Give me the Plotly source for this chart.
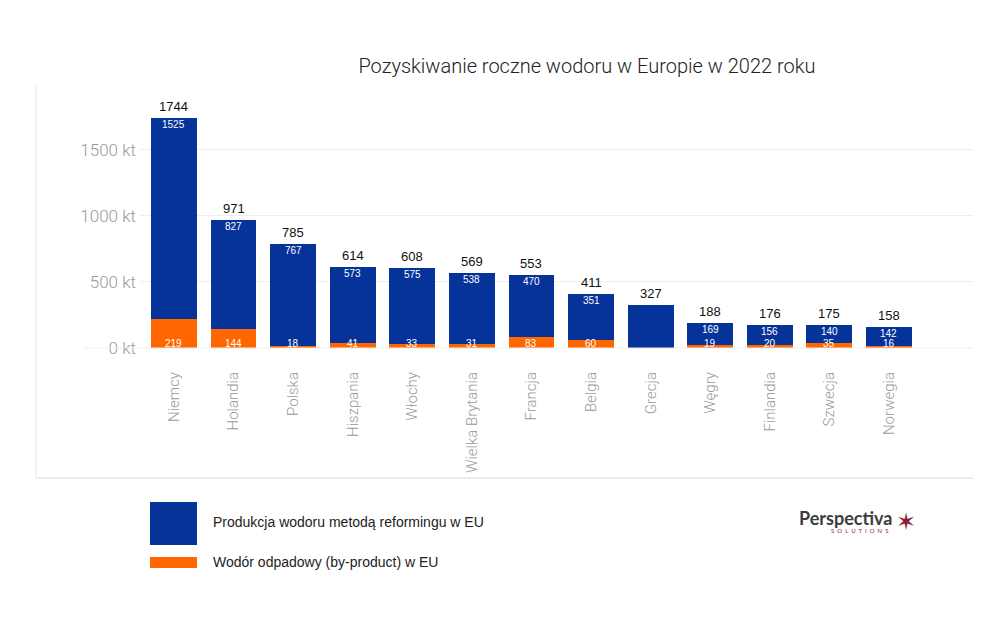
import plotly.graph_objects as go

countries = ["Niemcy", "Holandia", "Polska", "Hiszpania", "Włochy", "Wielka Brytania",
             "Francja", "Belgia", "Grecja", "Węgry", "Finlandia", "Szwecja", "Norwegia"]
reforming = [1525, 827, 767, 573, 575, 538, 470, 351, 327, 169, 156, 140, 142]
byproduct = [219, 144, 18, 41, 33, 31, 83, 60, 0, 19, 20, 35, 16]
totals = [1744, 971, 785, 614, 608, 569, 553, 411, 327, 188, 176, 175, 158]
reforming_labels = ["1525", "827", "767", "573", "575", "538", "470", "351", "", "169", "156", "140", "142"]
byproduct_labels = ["219", "144", "18", "41", "33", "31", "83", "60", "", "19", "20", "35", "16"]
y_ticks = [0, 500, 1000, 1500]
y_tick_labels = ["0 kt", "500 kt", "1000 kt", "1500 kt"]

BLUE = "#063399"
ORANGE = "#ff6600"
W, H = 1000, 622
OFF = 8  # page body margin
L, R, T, B = 140 - OFF, 973 - OFF, 97 - OFF, 348 - OFF

def px(xp):
    return (xp - OFF - L) / (R - L)

def py(yp):
    return (B - (yp - OFF)) / (B - T)

COND = dict(family="Roboto", weight=300)

fig = go.Figure()
fig.add_trace(go.Bar(x=countries, y=byproduct, marker=dict(color=ORANGE, line=dict(width=0)),
                     name="Wodór odpadowy (by-product) w EU", hoverinfo="x+y"))
fig.add_trace(go.Bar(x=countries, y=reforming, marker=dict(color=BLUE, line=dict(width=0)),
                     name="Produkcja wodoru metodą reformingu w EU", hoverinfo="x+y"))

annotations = []
for c, t in zip(countries, totals):
    annotations.append(dict(x=c, y=t, text=str(t), showarrow=False, yanchor="bottom", yshift=2,
                            font=dict(family="Liberation Sans, Arial", size=13, color="#111")))
for c, t, lab in zip(countries, totals, reforming_labels):
    if lab:
        annotations.append(dict(x=c, y=t, text=lab, showarrow=False, yanchor="top", yshift=1,
                                font=dict(family="Liberation Sans, Arial", size=10, color="white")))
for c, lab in zip(countries, byproduct_labels):
    if lab:
        annotations.append(dict(x=c, y=0, text=lab, showarrow=False, yanchor="bottom", yshift=-3,
                                font=dict(family="Liberation Sans, Arial", size=10, color="white")))

# legend texts
annotations.append(dict(xref="paper", yref="paper", x=px(211), y=py(522), xanchor="left", yanchor="middle",
                        text="Produkcja wodoru metodą reformingu w EU", showarrow=False,
                        font=dict(family="Liberation Sans, Arial", size=14, color="#222")))
annotations.append(dict(xref="paper", yref="paper", x=px(211), y=py(562), xanchor="left", yanchor="middle",
                        text="Wodór odpadowy (by-product) w EU", showarrow=False,
                        font=dict(family="Liberation Sans, Arial", size=14, color="#222")))
# logo
annotations.append(dict(xref="paper", yref="paper", x=px(797), y=py(518), xanchor="left", yanchor="middle",
                        text="<b>Perspectiva</b>", showarrow=False,
                        font=dict(family="Lato, Liberation Sans", size=18, color="#3c3c3c")))
annotations.append(dict(xref="paper", yref="paper", x=px(829), y=py(530), xanchor="left", yanchor="middle",
                        text="S  O  L  U  T  I  O  N  S", showarrow=False,
                        font=dict(family="Lato, Liberation Sans", size=6, color="#8b1a3a")))
annotations.append(dict(xref="paper", yref="paper", x=px(906), y=py(522), xanchor="center", yanchor="middle",
                        text="✶", showarrow=False,
                        font=dict(family="DejaVu Sans", size=24, color="#8b1a3a")))

shapes = [
    dict(type="rect", xref="paper", yref="paper", x0=px(150), x1=px(197), y0=py(545), y1=py(502),
         fillcolor=BLUE, line=dict(width=0)),
    dict(type="rect", xref="paper", yref="paper", x0=px(150), x1=px(197), y0=py(568), y1=py(557),
         fillcolor=ORANGE, line=dict(width=0)),
    dict(type="line", xref="paper", yref="paper", x0=px(36), x1=px(36), y0=py(478), y1=py(86),
         line=dict(color="#ececec", width=1.5)),
    dict(type="line", xref="paper", yref="paper", x0=px(36), x1=px(973), y0=py(478), y1=py(478),
         line=dict(color="#e6e6e6", width=1.5)),
    dict(type="line", xref="paper", yref="paper", x0=px(85), x1=px(973), y0=0, y1=0,
         line=dict(color="#eeeeee", width=1)),
]

fig.update_layout(
    width=W, height=H,
    margin=dict(l=L, r=W - R, t=T, b=H - B),
    barmode="stack", bargap=0.23,
    plot_bgcolor="white", paper_bgcolor="white",
    showlegend=False,
    title=dict(text="Pozyskiwanie roczne wodoru w Europie w 2022 roku",
               x=(587 - OFF) / W, xanchor="center", y=1 - (66 - OFF) / H, yanchor="middle",
               xref="container", yref="container",
               font=dict(size=20, color="#222", **COND)),
    xaxis=dict(range=[-0.57, 13.41], tickangle=-90, showgrid=False, showline=False, ticks="",
               ticklabelstandoff=20,
               tickfont=dict(size=15, color="#999999", **COND)),
    yaxis=dict(range=[0, 1900], tickvals=y_ticks, ticktext=y_tick_labels, showgrid=True,
               gridcolor="#eeeeee", gridwidth=1, zeroline=False, showline=False, ticks="",
               ticklabelstandoff=3,
               tickfont=dict(size=17, color="#999999", **COND)),
    annotations=annotations,
    shapes=shapes,
)

fig.write_html("out.html")
